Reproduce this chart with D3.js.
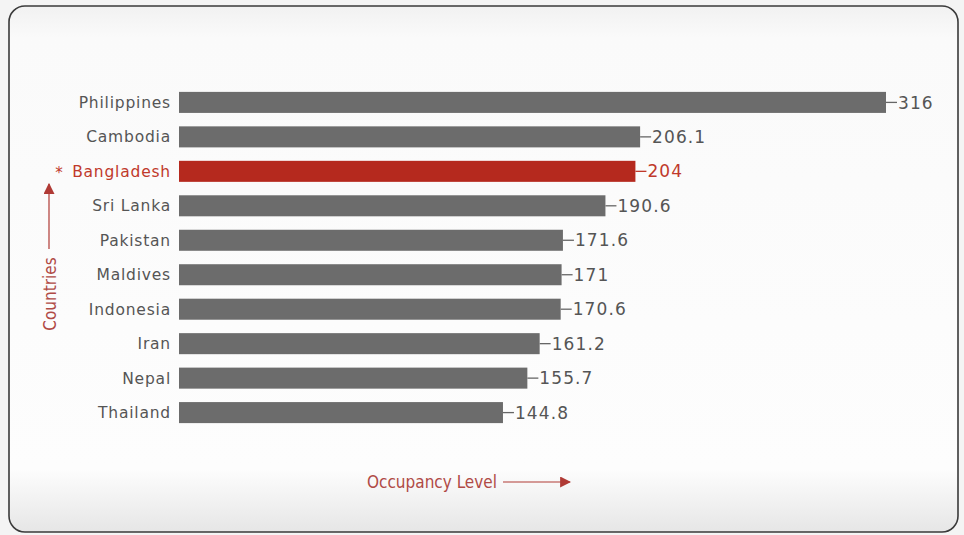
<!DOCTYPE html>
<html><head><meta charset="utf-8">
<script src="https://cdn.jsdelivr.net/npm/d3@7"></script>
<style>body{margin:0;background:#fff}svg{display:block}</style>
</head><body><svg id="c" width="964" height="535"></svg>
<script>
const countries = ["Philippines","Cambodia","Bangladesh","Sri Lanka","Pakistan","Maldives","Indonesia","Iran","Nepal","Thailand"];
const occupancy = [316,206.1,204,190.6,171.6,171,170.6,161.2,155.7,144.8];
const highlight = "Bangladesh";
const xTitle = "Occupancy Level";
const yTitle = "Countries";

const svg = d3.select("#c");
const defs = svg.append("defs");
const g1 = defs.append("linearGradient").attr("id","bg").attr("x1",0).attr("y1",0).attr("x2",0).attr("y2",1);
g1.append("stop").attr("offset","0%").attr("stop-color","#f1f1f1");
g1.append("stop").attr("offset","6%").attr("stop-color","#fafafa");
g1.append("stop").attr("offset","88%").attr("stop-color","#fdfdfd");
g1.append("stop").attr("offset","100%").attr("stop-color","#e6e6e6");
defs.append("marker").attr("id","ah").attr("viewBox","0 0 10 10").attr("refX",9).attr("refY",5)
  .attr("markerWidth",11).attr("markerHeight",11).attr("markerUnits","userSpaceOnUse").attr("orient","auto")
  .append("path").attr("d","M0,0L10,5L0,10Z").attr("fill","#b03a35");

svg.append("rect").attr("width",964).attr("height",535).attr("fill","#f4f4f4");
svg.append("rect").attr("x",9).attr("y",6).attr("width",949).attr("height",526).attr("rx",16)
  .attr("fill","url(#bg)").attr("stroke","#3a3a3a").attr("stroke-width",1.6);

const x = d3.scaleLinear().domain([0,316]).range([179,886]);
const y = d3.scaleBand().domain(countries).range([85,430]).paddingInner(0.39).paddingOuter(0.2);

const gray="#6c6c6c", red="#b5291e";
const font="DejaVu Sans, Verdana, sans-serif";
const cond="DejaVu Sans Condensed, Liberation Sans Narrow, sans-serif";
svg.selectAll("rect.bar").data(countries).join("rect").attr("class","bar")
  .attr("x",x(0)).attr("y",d=>y(d)).attr("height",y.bandwidth())
  .attr("width",(d,i)=>x(occupancy[i])-x(0))
  .attr("fill",d=>d===highlight?red:gray);

// leader dashes + values
svg.selectAll("line.ld").data(countries).join("line").attr("class","ld")
  .attr("x1",(d,i)=>x(occupancy[i])).attr("x2",(d,i)=>x(occupancy[i])+11)
  .attr("y1",d=>y(d)+y.bandwidth()/2).attr("y2",d=>y(d)+y.bandwidth()/2)
  .attr("stroke",d=>d===highlight?"#c0392b":"#666").attr("stroke-width",1.3);
svg.selectAll("text.val").data(countries).join("text").attr("class","val")
  .attr("x",(d,i)=>x(occupancy[i])+12).attr("y",d=>y(d)+y.bandwidth()/2)
  .attr("dy","0.36em").attr("font-family",font).attr("font-size",17).attr("letter-spacing",1.1)
  .attr("fill",d=>d===highlight?"#c0392b":"#555").text((d,i)=>occupancy[i]);

// category labels
svg.selectAll("text.cat").data(countries).join("text").attr("class","cat")
  .attr("x",171).attr("y",d=>y(d)+y.bandwidth()/2).attr("dy","0.36em").attr("text-anchor","end")
  .attr("font-family",font).attr("font-size",15.5).attr("letter-spacing",0.8)
  .attr("fill",d=>d===highlight?"#c0392b":"#555").text(d=>d);
svg.append("text").attr("x",59).attr("y",y(highlight)+y.bandwidth()/2).attr("dy","0.45em").attr("text-anchor","middle")
  .attr("font-family",font).attr("font-size",15).attr("fill","#c0392b").text("*");

// y title with arrow
svg.append("text").attr("transform","translate(56,294) rotate(-90)").attr("text-anchor","middle")
  .attr("font-family",cond).attr("font-size",17)
  .attr("fill","#b04a45").text(yTitle);
svg.append("line").attr("x1",49).attr("x2",49).attr("y1",249).attr("y2",184)
  .attr("stroke","#b03a35").attr("stroke-width",1.2).attr("marker-end","url(#ah)");

// x title with arrow
svg.append("text").attr("x",432).attr("y",488).attr("text-anchor","middle")
  .attr("font-family",cond).attr("font-size",17)
  .attr("fill","#b04a45").text(xTitle);
svg.append("line").attr("x1",503).attr("x2",570).attr("y1",482).attr("y2",482)
  .attr("stroke","#b03a35").attr("stroke-width",1.2).attr("marker-end","url(#ah)");
</script></body></html>
